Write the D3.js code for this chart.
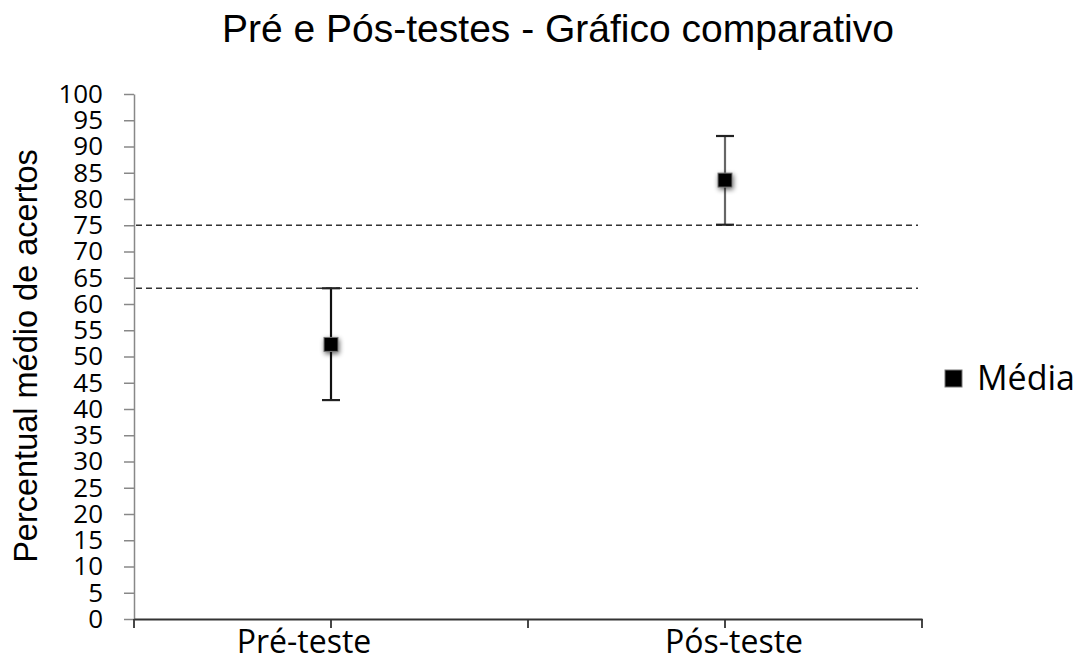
<!DOCTYPE html>
<html>
<head>
<meta charset="utf-8">
<script src="https://cdn.jsdelivr.net/npm/d3@7"></script>
<style>
  body { margin: 0; background: #fff; }
  svg { display: block; }
</style>
</head>
<body>
<div id="chart"></div>
<script>
// Chart data
var categories = ["Pré-teste", "Pós-teste"];
var means = [52.3, 83.6];
var lowerBounds = [41.7, 75.1];
var upperBounds = [63.0, 92.0];
var refLines = [63, 75];
var yTicks = d3.range(0, 101, 5);

var width = 1083;
var height = 662;

var svg = d3.select("#chart")
    .append("svg")
    .attr("width", width)
    .attr("height", height);

// Shadow for the markers
var defs = svg.append("defs");
var shadow = defs.append("filter").attr("id", "shadow")
    .attr("x", "-60%").attr("y", "-60%").attr("width", "220%").attr("height", "220%");
shadow.append("feGaussianBlur").attr("in", "SourceAlpha").attr("stdDeviation", 2.5).attr("result", "blur");
shadow.append("feOffset").attr("dx", 1).attr("dy", 2).attr("result", "off");
shadow.append("feComponentTransfer").append("feFuncA").attr("type", "linear").attr("slope", 0.6);
var merge = shadow.append("feMerge");
merge.append("feMergeNode");
merge.append("feMergeNode").attr("in", "SourceGraphic");

// Scales
var x = d3.scaleBand()
    .domain(categories)
    .range([134, 922]);

var y = d3.scaleLinear()
    .domain([0, 100])
    .range([619, 94]);

// Title
svg.append("text")
    .attr("x", 558)
    .attr("y", 42)
    .attr("text-anchor", "middle")
    .style("font-family", "Liberation Sans, Arial, sans-serif")
    .style("font-size", "39px")
    .style("fill", "#000")
    .text("Pré e Pós-testes - Gráfico comparativo");

// Y axis
var yAxis = svg.append("g")
    .attr("transform", "translate(134,0)")
    .call(d3.axisLeft(y).tickValues(yTicks).tickSize(10).tickSizeOuter(0).tickPadding(21));
yAxis.select(".domain").attr("stroke", "#888").attr("stroke-width", 1.5);
yAxis.selectAll(".tick line").attr("stroke", "#888").attr("stroke-width", 1.5);
yAxis.selectAll(".tick text")
    .style("font-family", "Open Sans, sans-serif")
    .style("font-size", "26px")
    .style("fill", "#000");

// Y axis label
svg.append("text")
    .attr("transform", "translate(37,356) rotate(-90)")
    .attr("text-anchor", "middle")
    .style("font-family", "Liberation Sans, Arial, sans-serif")
    .style("font-size", "32.5px")
    .style("fill", "#000")
    .text("Percentual médio de acertos");

// X axis
var xAxis = svg.append("g")
    .attr("transform", "translate(0,619)")
    .call(d3.axisBottom(x).tickSize(9).tickSizeOuter(0).tickFormat(""));
xAxis.select(".domain").attr("stroke", "#333").attr("stroke-width", 1.8);
xAxis.selectAll(".tick line").attr("stroke", "#333").attr("stroke-width", 1.8);

// category boundary ticks
var bounds = categories.map(function(c) { return x(c); }).concat([x.range()[1]]);
xAxis.selectAll(".bound")
    .data(bounds)
    .enter()
    .append("line")
    .attr("class", "bound")
    .attr("x1", function(d) { return d; })
    .attr("x2", function(d) { return d; })
    .attr("y1", 0)
    .attr("y2", 9)
    .attr("stroke", "#333")
    .attr("stroke-width", 1.8);

var labelShift = [-27, 9];
xAxis.selectAll(".cat")
    .data(categories)
    .enter()
    .append("text")
    .attr("class", "cat")
    .attr("x", function(d, i) { return x(d) + x.bandwidth() / 2 + labelShift[i]; })
    .attr("y", 34)
    .attr("text-anchor", "middle")
    .style("font-family", "Open Sans, sans-serif")
    .style("font-size", "32px")
    .style("fill", "#000")
    .text(function(d) { return d; });

// Reference dashed lines
svg.selectAll(".ref")
    .data(refLines)
    .enter()
    .append("line")
    .attr("class", "ref")
    .attr("x1", 136)
    .attr("x2", 918)
    .attr("y1", function(d) { return y(d); })
    .attr("y2", function(d) { return y(d); })
    .attr("stroke", "#333")
    .attr("stroke-width", 1.7)
    .attr("stroke-dasharray", "6,4");

// Error bars
var cx = function(i) { return x(categories[i]) + x.bandwidth() / 2; };
var barColors = ["#111", "#666"];
var bars = svg.selectAll(".err")
    .data(means)
    .enter()
    .append("g")
    .attr("class", "err");

bars.append("line")
    .attr("x1", function(d, i) { return cx(i); })
    .attr("x2", function(d, i) { return cx(i); })
    .attr("y1", function(d, i) { return y(upperBounds[i]); })
    .attr("y2", function(d, i) { return y(lowerBounds[i]); })
    .attr("stroke", function(d, i) { return barColors[i]; })
    .attr("stroke-width", 2.2);

[upperBounds, lowerBounds].forEach(function(arr) {
    bars.append("line")
        .attr("x1", function(d, i) { return cx(i) - 9; })
        .attr("x2", function(d, i) { return cx(i) + 9; })
        .attr("y1", function(d, i) { return y(arr[i]); })
        .attr("y2", function(d, i) { return y(arr[i]); })
        .attr("stroke", "#222")
        .attr("stroke-width", 2.2);
});

// Mean markers
bars.append("rect")
    .attr("x", function(d, i) { return cx(i) - 7; })
    .attr("y", function(d) { return y(d) - 7; })
    .attr("width", 14)
    .attr("height", 14)
    .attr("fill", "#000")
    .attr("stroke", "#777")
    .attr("stroke-width", 1)
    .attr("filter", "url(#shadow)");

// Legend
var legend = svg.append("g").attr("transform", "translate(945,370)");
legend.append("rect")
    .attr("width", 17)
    .attr("height", 17)
    .attr("fill", "#000")
    .attr("stroke", "#777")
    .attr("stroke-width", 1);
legend.append("text")
    .attr("x", 32)
    .attr("y", 20)
    .style("font-family", "Open Sans, sans-serif")
    .style("font-size", "34px")
    .style("fill", "#000")
    .text("Média");
</script>
</body>
</html>
